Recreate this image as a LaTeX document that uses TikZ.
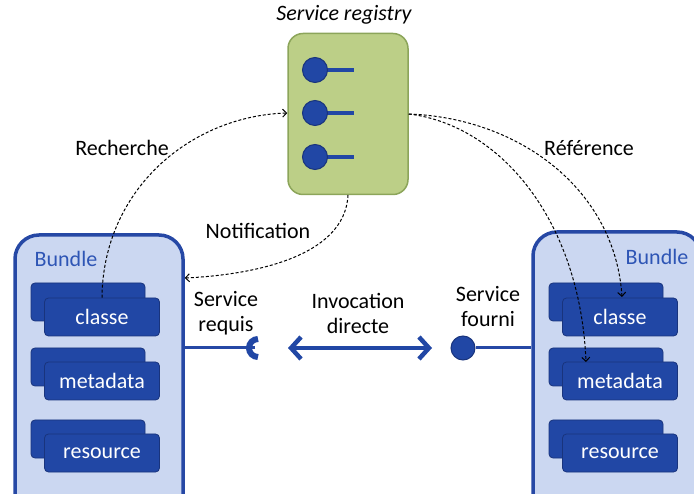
\documentclass[tikz,border=0pt]{standalone}
\usepackage{fontspec}
\setmainfont{Carlito}
\usetikzlibrary{arrows.meta}
\definecolor{regfill}{RGB}{188,207,135}
\definecolor{regdraw}{RGB}{140,165,90}
\definecolor{bfill}{RGB}{203,215,241}
\definecolor{bdraw}{RGB}{38,72,165}
\definecolor{boxfill}{RGB}{33,71,165}
\definecolor{boxdraw}{RGB}{25,52,125}
\definecolor{btext}{RGB}{46,85,181}
\tikzset{
  lbl/.style={font=\fontsize{22}{25}\selectfont, align=center, inner sep=0pt},
  bundle/.style={draw=bdraw, line width=3.5pt, fill=bfill, rounded corners=24pt, minimum width=168pt, minimum height=290pt, inner sep=0pt},
  backbox/.style={draw=boxdraw, line width=0.8pt, fill=boxfill, rounded corners=4pt, minimum width=114pt, minimum height=38pt, inner sep=0pt},
  frontbox/.style={draw=boxdraw, line width=0.8pt, fill=boxfill, rounded corners=4pt, minimum width=115pt, minimum height=38pt, inner sep=0pt, text=white, font=\fontsize{22}{25}\selectfont},
  ball/.style={circle, draw=boxdraw, line width=1pt, fill=boxfill, minimum size=24pt, inner sep=0pt},
  bar/.style={draw=boxfill, line width=4pt},
  link/.style={draw=bdraw, line width=3pt},
  dashy/.style={draw=black, line width=1pt, dash pattern=on 3pt off 2pt, -{Straight Barb[length=4pt,width=8pt]}},
}
\begin{document}
\begin{tikzpicture}[x=1pt,y=-1pt]
\useasboundingbox (0,0) rectangle (694,494);
\clip (0,0) rectangle (694,494);
% registry
\node[lbl, font=\fontsize{22}{25}\selectfont\itshape] (title) at (344,15) {Service registry};
\node[draw=regdraw, line width=1.5pt, fill=regfill, rounded corners=15pt, minimum width=120pt, minimum height=161pt, inner sep=0pt] (reg) at (348,114) {};
\foreach \i/\y in {1/70,2/113,3/157}{
  \coordinate (bar\i) at (354,\y);
  \draw[bar] (315,\y) -- (bar\i);
  \node[ball, minimum size=25pt] (rgb\i) at (315,\y) {};
}
% bundles
\node[bundle] (lb) at (99,380) {};
\node[bundle] (rb) at (617,377) {};
\node[lbl, text=btext] (lbt) at (66,259) {Bundle};
\node[lbl, text=btext] (rbt) at (657,257) {Bundle};
% left sub-boxes
\node[backbox] (lb1) at (88,302) {};
\node[frontbox] (lf1) at (102,317) {classe};
\node[backbox] (lb2) at (88,367) {};
\node[frontbox] (lf2) at (102,381) {metadata};
\node[backbox] (lb3) at (88,439) {};
\node[frontbox] (lf3) at (102,453) {resource};
% right sub-boxes
\node[backbox] (rb1) at (606,302) {};
\node[frontbox] (rf1) at (620,317) {classe};
\node[backbox] (rb2) at (606,367) {};
\node[frontbox] (rf2) at (620,381) {metadata};
\node[backbox] (rb3) at (606,439) {};
\node[frontbox] (rf3) at (620,453) {resource};
% connectors at middle
\coordinate (sock) at (255,348);
\draw[link] (lb.east |- sock) -- (sock);
\draw[draw=boxfill, line width=6pt] (258,339) arc[start angle=270, end angle=90, radius=9];
\node[ball] (fball) at (463,348) {};
\draw[link] (fball) -- (rb.west |- fball);
\coordinate (ia) at (288,348);
\coordinate (ib) at (432,348);
\draw[draw=boxfill, line width=4.5pt, {Straight Barb[length=10pt,width=22pt,line width=4.5pt]}-{Straight Barb[length=10pt,width=22pt,line width=4.5pt]}] (ia) -- (ib);
% labels
\node[lbl] (rech) at (122,148) {Recherche};
\node[lbl] (notif) at (258,231) {Notification};
\node[lbl] (ref) at (589,148) {Référence};
\node[lbl] (sreq) at (226,313) {Service\\requis};
\node[lbl] (inv) at (358,313) {Invocation\\directe};
\node[lbl] (sfour) at (488,307) {Service\\fourni};
% dashed arrows
\draw[dashy] (lf1.north) .. controls (103,190) and (190,116) .. (reg.west |- rgb2);
\draw[dashy] (348,195) .. controls (345,258) and (250,275) .. (lb.east |- 0,278);
\draw[dashy] (reg.east |- 0,114) .. controls (520,118) and (615,190) .. (622,297);
\draw[dashy] (reg.east |- 0,114) .. controls (500,125) and (580,220) .. (586,362);
\end{tikzpicture}
\end{document}
